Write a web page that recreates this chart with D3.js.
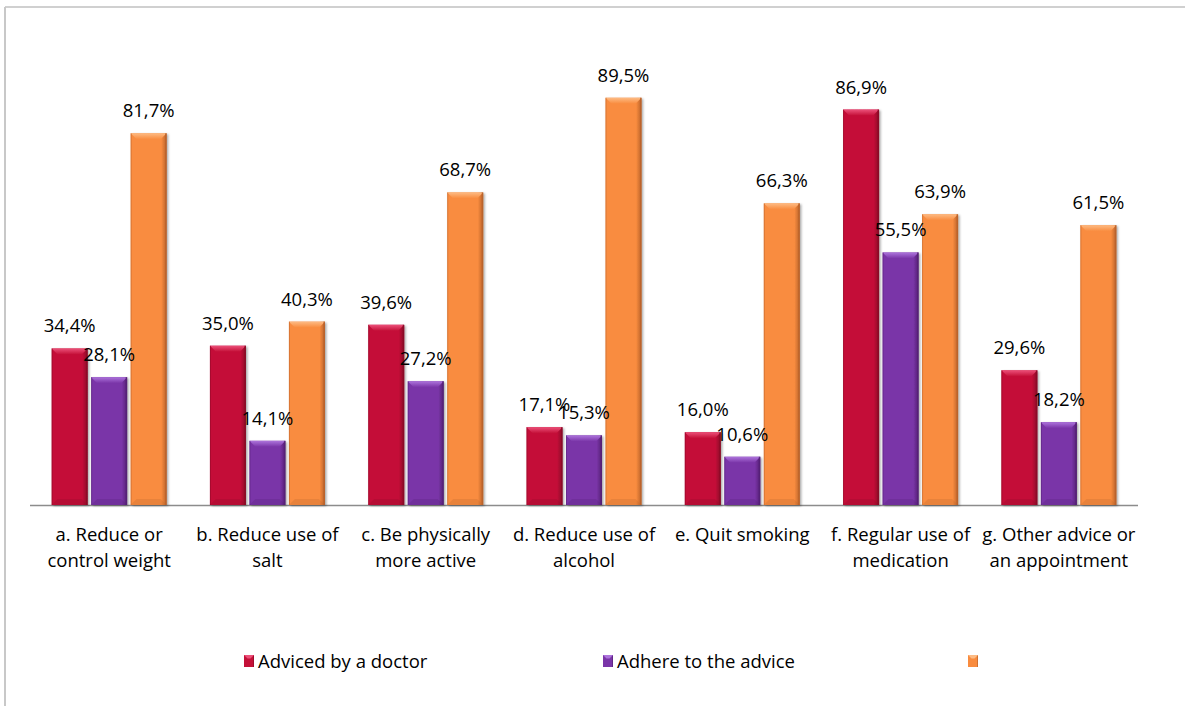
<!DOCTYPE html>
<html>
<head>
<meta charset="utf-8">
<script src="https://cdn.jsdelivr.net/npm/d3@7"></script>
<style>
  html, body { margin: 0; padding: 0; background: #fff; }
  svg { display: block; }
  text { font-family: "Open Sans", Lato, sans-serif; fill: #000; }
</style>
</head>
<body>
<svg id="chart" width="1185" height="706"></svg>
<script>
// Categories (two-line axis labels)
const categories = [
  ["a. Reduce or", "control weight"],
  ["b.  Reduce use of", "salt"],
  ["c. Be physically", "more active"],
  ["d.  Reduce use of", "alcohol"],
  ["e. Quit smoking"],
  ["f. Regular use of", "medication"],
  ["g. Other advice or", "an appointment"]
];
const seriesNames = ["Adviced by a doctor", "Adhere to the advice", ""];
const advised = [34.4, 35.0, 39.6, 17.1, 16.0, 86.9, 29.6];
const adhere  = [28.1, 14.1, 27.2, 15.3, 10.6, 55.5, 18.2];
const third   = [81.7, 40.3, 68.7, 89.5, 66.3, 63.9, 61.5];
const seriesValues = [advised, adhere, third];

const colors = [
  { base: "#c41038", light: "#ec5079", dark: "#8a0a27" },
  { base: "#7a35a8", light: "#ad74dc", dark: "#552075" },
  { base: "#f98c3f", light: "#fdbb84", dark: "#b9622a" }
];

const svg = d3.select("#chart");
const W = 1185, H = 706;

// frame
svg.append("line").attr("x1", 5).attr("x2", W).attr("y1", 7).attr("y2", 7)
  .attr("stroke", "#d0d0d0").attr("stroke-width", 2);
svg.append("line").attr("x1", 5).attr("x2", 5).attr("y1", 7).attr("y2", H)
  .attr("stroke", "#c8c8c8").attr("stroke-width", 2);

const plot = { left: 30, right: 1138, top: 50, bottom: 505 };

const x0 = d3.scaleBand().domain(d3.range(categories.length))
  .range([plot.left, plot.right]).paddingInner(0).paddingOuter(0);
const barW = 36, barGap = 3.5;
const groupW = barW * 3 + barGap * 2;
const y = d3.scaleLinear().domain([0, 100]).range([plot.bottom, plot.top]);

// gradients for bevelled bars
const defs = svg.append("defs");
colors.forEach((c, i) => {
  const g = defs.append("linearGradient").attr("id", "body" + i)
    .attr("x1", "0").attr("x2", "1").attr("y1", "0").attr("y2", "0");
  g.append("stop").attr("offset", "0").attr("stop-color", c.base);
  g.append("stop").attr("offset", "0.85").attr("stop-color", c.base);
  g.append("stop").attr("offset", "1").attr("stop-color", c.dark);
  const t = defs.append("linearGradient").attr("id", "top" + i)
    .attr("x1", "0").attr("x2", "0").attr("y1", "0").attr("y2", "1");
  t.append("stop").attr("offset", "0").attr("stop-color", c.light);
  t.append("stop").attr("offset", "1").attr("stop-color", c.base);
});
const sh = defs.append("filter").attr("id", "shadow").attr("x", "-20%").attr("y", "-5%")
  .attr("width", "150%").attr("height", "115%");
sh.append("feDropShadow").attr("dx", 1.5).attr("dy", 1).attr("stdDeviation", 1.2)
  .attr("flood-color", "#000").attr("flood-opacity", 0.35);

// axis baseline
svg.append("line").attr("x1", plot.left).attr("x2", plot.right)
  .attr("y1", plot.bottom + 0.5).attr("y2", plot.bottom + 0.5)
  .attr("stroke", "#8c8c8c").attr("stroke-width", 1.5);

const barX = (ci, si) => x0(ci) + x0.bandwidth() / 2 - groupW / 2 + si * (barW + barGap);

seriesValues.forEach((vals, si) => {
  const c = colors[si];
  const gs = svg.append("g");
  vals.forEach((v, ci) => {
    const bx = barX(ci, si), top = y(v), h = plot.bottom - top;
    const g = gs.append("g");
    g.append("rect").attr("x", bx).attr("y", top).attr("width", barW).attr("height", h)
      .attr("fill", `url(#body${si})`).attr("filter", "url(#shadow)");
    // top bevel
    const b = 6;
    g.append("path")
      .attr("d", `M${bx},${top} L${bx + barW},${top} L${bx + barW - b},${top + b} L${bx + b},${top + b} Z`)
      .attr("fill", `url(#top${si})`);
    // bottom bevel
    g.append("path")
      .attr("d", `M${bx},${plot.bottom} L${bx + barW},${plot.bottom} L${bx + barW - b},${plot.bottom - b} L${bx + b},${plot.bottom - b} Z`)
      .attr("fill", c.dark).attr("opacity", 0.25);
    // side edges
    g.append("rect").attr("x", bx).attr("y", top).attr("width", 1).attr("height", h)
      .attr("fill", c.dark).attr("opacity", 0.5);
    g.append("rect").attr("x", bx + barW - 1.5).attr("y", top).attr("width", 1.5).attr("height", h)
      .attr("fill", c.dark).attr("opacity", 0.8);
  });
});

// value labels
const fmt = v => v.toFixed(1).replace(".", ",") + "%";
seriesValues.forEach((vals, si) => {
  vals.forEach((v, ci) => {
    svg.append("text")
      .attr("x", barX(ci, si) + barW / 2)
      .attr("y", y(v) - 16)
      .attr("text-anchor", "middle")
      .attr("font-size", 18.5)
      .text(fmt(v));
  });
});

// category labels
categories.forEach((lines, ci) => {
  const cx = x0(ci) + x0.bandwidth() / 2;
  const t = svg.append("text")
    .attr("x", cx)
    .attr("y", 541)
    .attr("text-anchor", "middle")
    .attr("font-size", 18.5);
  lines.forEach((l, li) => {
    t.append("tspan").attr("x", cx)
      .attr("dy", li === 0 ? 0 : 26).text(l);
  });
});

// legend
const legendX = [244, 603, 968];
seriesNames.forEach((name, si) => {
  const c = colors[si];
  const lx = legendX[si], ly = 655;
  svg.append("rect").attr("x", lx).attr("y", ly).attr("width", 10).attr("height", 12)
    .attr("fill", `url(#body${si})`);
  svg.append("path")
    .attr("d", `M${lx},${ly} L${lx + 10},${ly} L${lx + 6.5},${ly + 3.5} L${lx + 3.5},${ly + 3.5} Z`)
    .attr("fill", c.light);
  if (name) {
    svg.append("text").attr("x", lx + 14).attr("y", ly + 13)
      .attr("font-size", 18.5).text(name);
  }
});
</script>
</body>
</html>
